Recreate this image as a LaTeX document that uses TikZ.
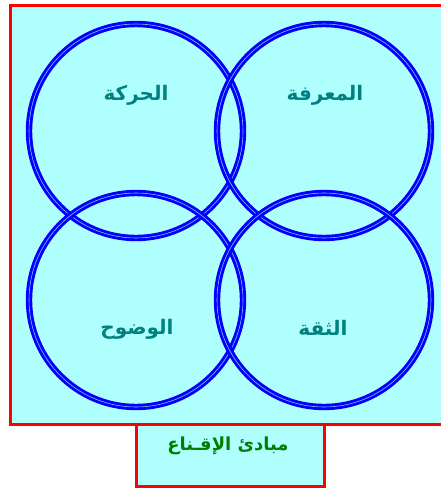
\documentclass[tikz,border=0pt]{standalone}
\usepackage{fontspec}
\usepackage{xcolor}
\TeXXeTstate=1
\newfontfamily\arabicfont[Script=Arabic]{DejaVu Sans}
\definecolor{panelcyan}{RGB}{176,255,255}
\definecolor{ringblue}{RGB}{0,0,255}
\definecolor{labelteal}{RGB}{0,128,128}
\definecolor{titlegreen}{RGB}{0,128,0}

\begin{document}
\begin{tikzpicture}[x=1pt, y=-1pt,
  panel/.style={draw=red, fill=panelcyan, line width=3pt},
  ring/.style={draw=ringblue, line width=2.9pt, double=ringblue!25!panelcyan, double distance=0.6pt},
  label/.style={text=labelteal, font={\arabicfont\bfseries\fontsize{20}{20}\selectfont}},
  title/.style={text=titlegreen, font={\arabicfont\bfseries\fontsize{18}{18}\selectfont}}]
\useasboundingbox (0,0) rectangle (441,488);
\draw[panel] (10,5) rectangle (446,424);
\draw[panel] (136,424) rectangle (324,486);
\draw[ring] (136,131) circle (107);
\draw[ring] (324,131) circle (107);
\draw[ring] (136,300) circle (107);
\draw[ring] (324,300) circle (107);
\node[label] (haraka) at (136,95) {\beginR الحركة\endR};
\node[label] (marifa) at (325,95) {\beginR المعرفة\endR};
\node[label] (wuduh) at (137,329) {\beginR الوضوح\endR};
\node[label] (thiqa) at (323,328) {\beginR الثقة\endR};
\node[title] (mabadi) at (228,446) {\beginR مبادئ الإقـناع\endR};
\end{tikzpicture}
\end{document}
